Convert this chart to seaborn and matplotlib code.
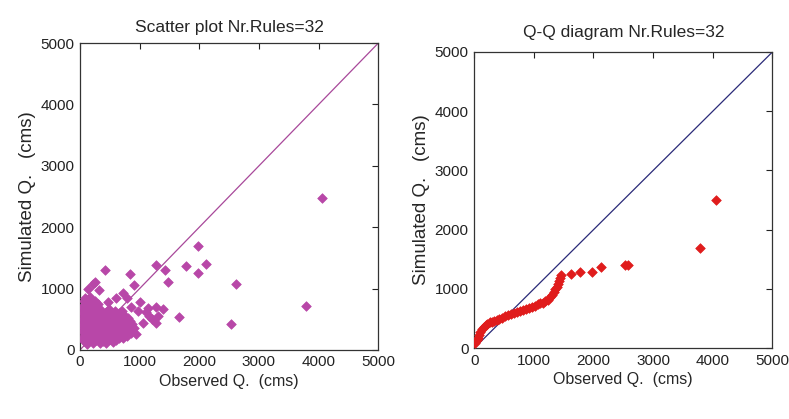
import matplotlib
matplotlib.use("Agg")
import matplotlib.pyplot as plt
import numpy as np
import pandas as pd
import seaborn as sns

# scatter plot: observed vs simulated discharge (cms)
sc_obs = [
    60, 150, 260, 380, 500, 610, 720,
    80, 180, 290, 400, 520, 630, 750, 860,
    50, 140, 240, 340, 450, 560, 680, 790, 900,
    70, 170, 280, 390, 500, 610, 720, 830,
    90, 200, 310, 420, 530, 650, 760,
    60, 150, 250, 360, 480, 590, 700,
    100, 190, 300, 80, 170,
    110, 220, 330, 440, 560, 670, 120, 230, 350,
    30, 120, 210, 330, 440, 550, 660, 780,
    40, 100, 200, 310, 420, 540, 650, 770, 880,
    30, 120, 230, 340, 450, 560, 670, 790, 870,
    40, 130, 240, 350, 460, 570, 690, 800,
    30, 120, 220, 320, 430, 540, 650,
    40, 130, 230, 60, 140, 250,
    140, 210, 250, 320, 420, 600, 720, 830, 900, 470, 1000, 970,
    1140, 1280, 1390, 1150, 1300, 1050, 1280, 940, 1660, 1280, 1420,
    1480, 1780, 1980, 1970, 2120, 2610, 2530, 3790, 4050, 1200, 1100,
    850, 780,
]
sc_sim = [
    150, 140, 160, 150, 170, 160, 200,
    250, 240, 260, 250, 240, 260, 250, 280,
    350, 340, 360, 350, 340, 360, 350, 340, 360,
    450, 460, 440, 450, 460, 440, 450, 470,
    550, 560, 540, 550, 560, 540, 550,
    650, 660, 640, 650, 660, 630, 640,
    750, 760, 740, 850, 860,
    100, 110, 120, 110, 130, 220, 300, 200, 280,
    200, 190, 210, 200, 190, 210, 200, 230,
    300, 310, 290, 300, 310, 290, 300, 290, 300,
    400, 410, 390, 400, 410, 390, 400, 410, 420,
    500, 510, 490, 500, 510, 490, 500, 520,
    600, 610, 590, 600, 610, 590, 600,
    700, 710, 690, 800, 810, 800,
    1000, 1080, 1100, 980, 1300, 840, 930, 1240, 1050, 780, 780, 630,
    690, 700, 660, 550, 550, 430, 440, 260, 540, 1380, 1300,
    1100, 1370, 1700, 1260, 1400, 1080, 420, 720, 2480, 500, 620,
    700, 850,
]

# Q-Q diagram: sorted observed vs sorted simulated quantiles
qq_obs = [
    20, 40, 60, 80, 100, 130, 160, 190, 220, 260, 300, 340, 380, 420,
    470, 520, 570, 620, 670, 720, 770, 820, 870, 920, 970, 1020, 1070,
    1110, 1150, 1190, 1230, 1270, 1300, 1330, 1360, 1380, 1400, 1420,
    1440, 1457, 1620, 1766, 1973, 2124, 2522, 2573, 3783, 4047,
]
qq_sim = [
    80, 130, 180, 230, 270, 320, 360, 390, 415, 435, 450, 465, 480, 495,
    515, 535, 555, 570, 590, 605, 620, 640, 660, 680, 700, 720, 740,
    755, 765, 790, 820, 860, 900, 950, 1000, 1040, 1080, 1130,
    1180, 1236, 1253, 1292, 1292, 1376, 1404, 1404, 1685, 2500,
]

ref_line = [0, 5000]
ticks = [0, 1000, 2000, 3000, 4000, 5000]

sns.set_theme(style="white")
plt.rcParams["font.family"] = ["Liberation Sans", "DejaVu Sans"]

fig = plt.figure(figsize=(7.89, 4.19), dpi=100)
ax1 = fig.add_axes([0.1014, 0.165, 0.378, 0.732])
ax2 = fig.add_axes([0.601, 0.169, 0.378, 0.707])

sc_df = pd.DataFrame({"obs": sc_obs, "sim": sc_sim})
qq_df = pd.DataFrame({"obs": qq_obs, "sim": qq_sim})
line_df = pd.DataFrame({"x": ref_line, "y": ref_line})

sns.lineplot(data=line_df, x="x", y="y", ax=ax1, color="#a8489a", lw=0.9)
sns.scatterplot(data=sc_df, x="obs", y="sim", ax=ax1, marker="D", s=24,
                color="#b847a8", edgecolor="#b847a8", linewidth=0.5, zorder=3)
ax1.set_title("Scatter plot Nr.Rules=32", fontsize=12.5, pad=8)

sns.lineplot(data=line_df, x="x", y="y", ax=ax2, color="#2a2a78", lw=0.9)
sns.scatterplot(data=qq_df, x="obs", y="sim", ax=ax2, marker="D", s=24,
                color="#e01c1c", edgecolor="#e01c1c", linewidth=0.5, zorder=3)
ax2.set_title("Q-Q diagram Nr.Rules=32", fontsize=12.5, pad=11)

for ax in (ax1, ax2):
    ax.set_xlim(0, 5000)
    ax.set_ylim(0, 5000)
    ax.set_xticks(ticks)
    ax.set_yticks(ticks)
    ax.set_xlabel("Observed Q.  (cms)", fontsize=11.5, labelpad=3)
    ax.set_ylabel("Simulated Q.   (cms)", fontsize=13.5, labelpad=3)
    ax.tick_params(direction="in", length=4, width=0.8, top=True, right=True,
                   labelsize=11, colors="#222222", pad=4)
    for sp in ax.spines.values():
        sp.set_color("#333333")
        sp.set_linewidth(0.9)

fig.savefig("out.png", dpi=100)
